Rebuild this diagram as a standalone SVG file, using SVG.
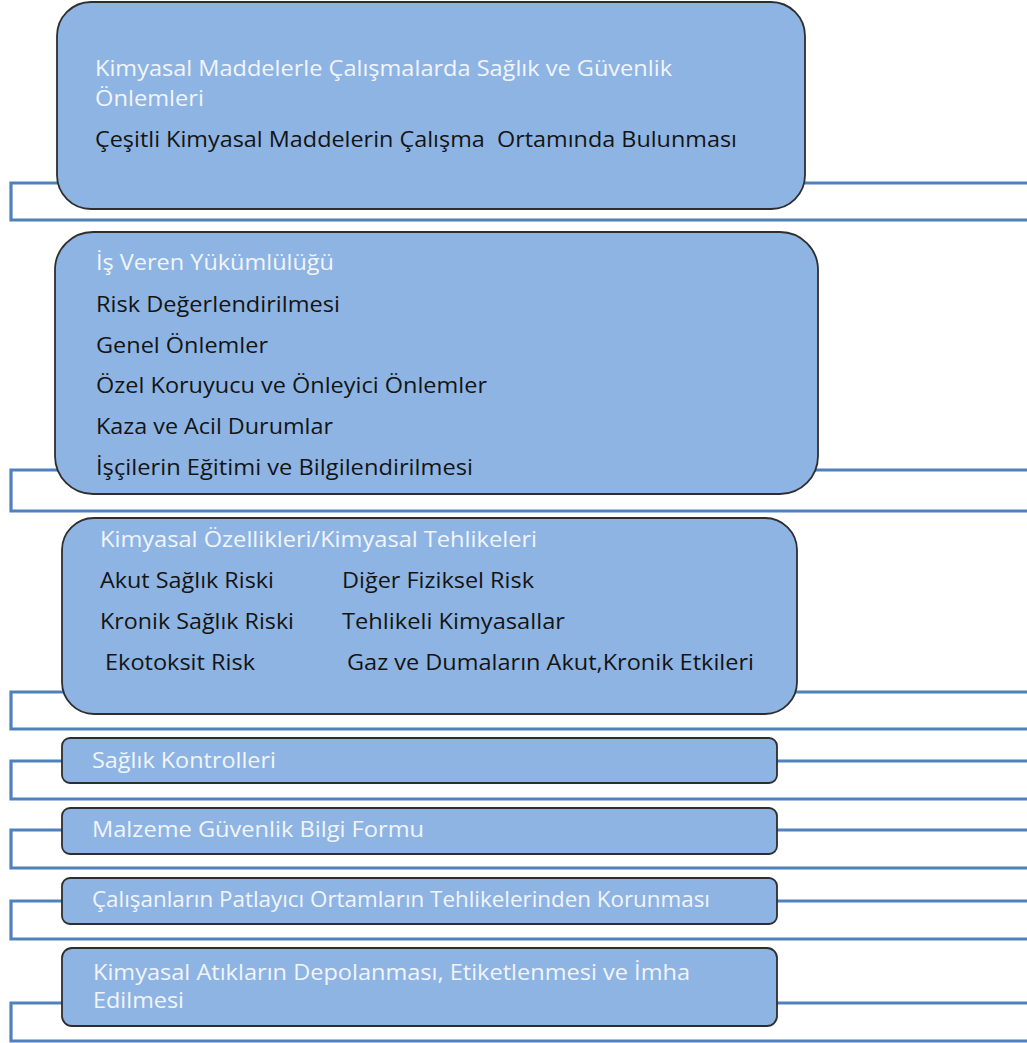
<svg xmlns="http://www.w3.org/2000/svg" width="1027" height="1043" viewBox="0 0 1027 1043">
  <style>
    .conn { fill: none; stroke: #4F81BD; stroke-width: 3.2; }
    .box { fill: #8EB4E3; stroke: #2E2E2E; stroke-width: 1.8; }
    .head { font-family: "Open Sans", "Liberation Sans", sans-serif; font-size: 22px; fill: #F1F5FB; }
    .item { font-family: "Open Sans", "Liberation Sans", sans-serif; font-size: 22px; fill: #141414; }
  </style>
  <rect width="1027" height="1043" fill="#FFFFFF"/>

  <!-- bracket connectors running behind each box -->
  <g id="connectors">
    <path class="conn" d="M1027 183 H11 V220 H1027"/>
    <path class="conn" d="M1027 470 H11 V511 H1027"/>
    <path class="conn" d="M1027 692 H11 V729 H1027"/>
    <path class="conn" d="M1027 761 H11 V799 H1027"/>
    <path class="conn" d="M1027 830 H11 V868 H1027"/>
    <path class="conn" d="M1027 901 H11 V939 H1027"/>
    <path class="conn" d="M1027 1003 H11 V1041 H1027"/>
  </g>

  <g id="node-calisma">
    <rect class="box" x="57" y="2" width="748" height="207" rx="34"/>
    <text class="head" x="95" y="76" textLength="577" lengthAdjust="spacingAndGlyphs">Kimyasal Maddelerle Çalışmalarda Sağlık ve Güvenlik</text>
    <text class="head" x="95" y="106" textLength="109" lengthAdjust="spacingAndGlyphs">Önlemleri</text>
    <text class="item" x="95" y="147" textLength="642" lengthAdjust="spacingAndGlyphs" xml:space="preserve">Çeşitli Kimyasal Maddelerin Çalışma  Ortamında Bulunması</text>
  </g>

  <g id="node-isveren">
    <rect class="box" x="55" y="232" width="763" height="262" rx="38"/>
    <text class="head" x="96" y="270" textLength="238" lengthAdjust="spacingAndGlyphs">İş Veren Yükümlülüğü</text>
    <text class="item" x="96" y="312" textLength="244" lengthAdjust="spacingAndGlyphs">Risk Değerlendirilmesi</text>
    <text class="item" x="96" y="353" textLength="172" lengthAdjust="spacingAndGlyphs">Genel Önlemler</text>
    <text class="item" x="96" y="393" textLength="391" lengthAdjust="spacingAndGlyphs">Özel Koruyucu ve Önleyici Önlemler</text>
    <text class="item" x="96" y="434" textLength="237" lengthAdjust="spacingAndGlyphs">Kaza ve Acil Durumlar</text>
    <text class="item" x="96" y="475" textLength="377" lengthAdjust="spacingAndGlyphs">İşçilerin Eğitimi ve Bilgilendirilmesi</text>
  </g>

  <g id="node-kimyasal-ozellikler">
    <rect class="box" x="62" y="518" width="735" height="196" rx="32"/>
    <text class="head" x="100" y="547" font-size="20" textLength="437" lengthAdjust="spacingAndGlyphs">Kimyasal Özellikleri/Kimyasal Tehlikeleri</text>
    <text class="item" x="100" y="588" textLength="174" lengthAdjust="spacingAndGlyphs">Akut Sağlık Riski</text>
    <text class="item" x="100" y="629" textLength="194" lengthAdjust="spacingAndGlyphs">Kronik Sağlık Riski</text>
    <text class="item" x="105" y="670" textLength="150" lengthAdjust="spacingAndGlyphs">Ekotoksit Risk</text>
    <text class="item" x="342" y="588" textLength="192" lengthAdjust="spacingAndGlyphs">Diğer Fiziksel Risk</text>
    <text class="item" x="342" y="629" textLength="223" lengthAdjust="spacingAndGlyphs">Tehlikeli Kimyasallar</text>
    <text class="item" x="347" y="670" textLength="407" lengthAdjust="spacingAndGlyphs">Gaz ve Dumaların Akut,Kronik Etkileri</text>
  </g>

  <g id="node-saglik">
    <rect class="box" x="62" y="738" width="715" height="45" rx="8"/>
    <text class="head" x="92" y="768" font-size="21" textLength="184" lengthAdjust="spacingAndGlyphs">Sağlık Kontrolleri</text>
  </g>

  <g id="node-msds">
    <rect class="box" x="62" y="808" width="715" height="46" rx="8"/>
    <text class="head" x="92" y="837" font-size="21" textLength="332" lengthAdjust="spacingAndGlyphs">Malzeme Güvenlik Bilgi Formu</text>
  </g>

  <g id="node-patlayici">
    <rect class="box" x="62" y="878" width="715" height="46" rx="8"/>
    <text class="head" x="92" y="907" font-size="21" textLength="618" lengthAdjust="spacingAndGlyphs">Çalışanların Patlayıcı Ortamların Tehlikelerinden Korunması</text>
  </g>

  <g id="node-atik">
    <rect class="box" x="62" y="948" width="715" height="78" rx="10"/>
    <text class="head" x="93" y="980" font-size="21" textLength="597" lengthAdjust="spacingAndGlyphs">Kimyasal Atıkların Depolanması, Etiketlenmesi ve İmha</text>
    <text class="head" x="93" y="1008" font-size="21" textLength="91" lengthAdjust="spacingAndGlyphs">Edilmesi</text>
  </g>
</svg>
